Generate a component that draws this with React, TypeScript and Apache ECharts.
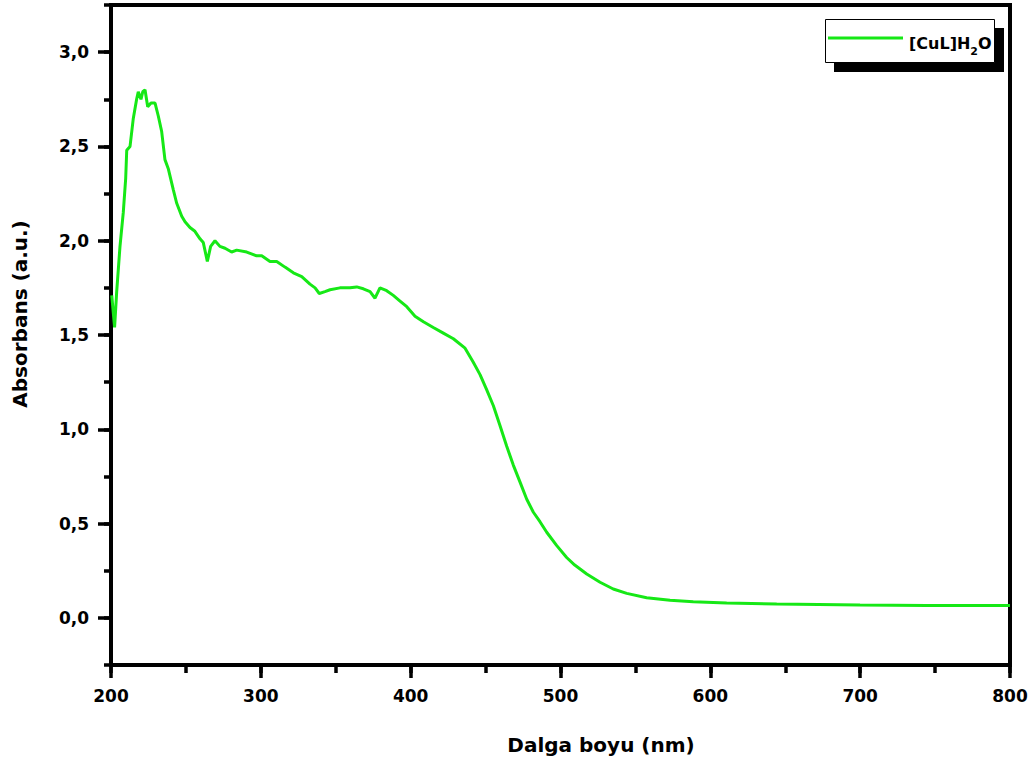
import React, { useEffect, useRef } from "react";
import * as echarts from "echarts";

const wavelength = [
  200.5, 202.4, 203.8, 206, 208.2, 209.8, 210.5, 212.7, 214.9, 217.1, 218.2, 220, 221.2, 222.7, 224.5,
  226.7, 229.4, 231.6, 233.8, 236, 238.3, 241.6, 243.8, 247.2, 249.4, 252.7, 256, 259.4, 261.6,
  264.3, 266.5, 269.4, 272.7, 276.1, 280.5, 283.9, 290.6, 297.2, 300.6, 306.1, 310.6, 316.1,
  321.7, 327.3, 332.8, 336.2, 339, 342.8, 346.2, 352.8, 359.5, 364, 368.4, 372.9, 376.2, 379.5,
  384, 388.4, 392.9, 397.4, 402.9, 408.5, 415.1, 421.8, 428.5, 436.3, 441.8, 446.3, 450.7,
  455.2, 459.6, 464.1, 468.5, 473, 477.4, 481.9, 486.3, 490.8, 497.5, 504.1, 509.5, 517.5,
  526.4, 535.2, 544.2, 557.5, 573.1, 588.6, 610.9, 644.3, 699.9, 744.4, 800,
];
const absorbance = [
  1.71, 1.54, 1.73, 1.97, 2.15, 2.33, 2.48, 2.5, 2.65, 2.75, 2.79, 2.75, 2.79, 2.8, 2.71,
  2.73, 2.73, 2.66, 2.58, 2.43, 2.38, 2.27, 2.2, 2.13, 2.1, 2.07, 2.05, 2.01, 1.99,
  1.89, 1.97, 2.0, 1.97, 1.96, 1.94, 1.95, 1.94, 1.92, 1.92, 1.89, 1.89, 1.86,
  1.83, 1.81, 1.77, 1.75, 1.72, 1.73, 1.74, 1.75, 1.75, 1.755, 1.745, 1.73, 1.695, 1.75,
  1.735, 1.71, 1.68, 1.65, 1.6, 1.57, 1.54, 1.51, 1.48, 1.43, 1.355, 1.29, 1.21,
  1.125, 1.02, 0.91, 0.81, 0.72, 0.63, 0.56, 0.51, 0.454, 0.383, 0.32, 0.28, 0.233,
  0.189, 0.153, 0.13, 0.107, 0.093, 0.086, 0.079, 0.074, 0.068, 0.065, 0.065,
];
const seriesName = "[CuL]H2O";
const xTitle = "Dalga boyu (nm)";
const yTitle = "Absorbans (a.u.)";

const FONT = "DejaVu Sans";
const GREEN = "#16e816";

export default function App() {
  const ref = useRef<HTMLDivElement>(null);
  useEffect(() => {
    if (!ref.current) return;
    const chart = echarts.init(ref.current, null, { renderer: "svg" });
    const data = wavelength.map((w, i) => [w, absorbance[i]]);
    const tickStyle = { color: "#000", width: 3.5 };
    chart.setOption({
      animation: false,
      backgroundColor: "#fff",
      grid: [
        { left: 111, right: 25, top: 5, bottom: 100, show: true, borderColor: "#000", borderWidth: 4 },
        { left: 111, right: 25, top: 52.14, bottom: 147.14 },
      ],
      xAxis: [
        {
          type: "value", gridIndex: 0, position: "bottom", min: 200, max: 800, interval: 100,
          axisLine: { show: true, onZero: false, lineStyle: { color: "#000", width: 4 } },
          axisTick: { show: true, length: 13, lineStyle: tickStyle },
          axisLabel: { show: true, margin: 22, color: "#000", fontFamily: FONT, fontWeight: "bold", fontSize: 17 },
          splitLine: { show: false },
        },
        {
          type: "value", gridIndex: 0, position: "bottom", min: 200, max: 800, interval: 50,
          axisLine: { show: false, onZero: false },
          axisTick: { show: true, length: 8, lineStyle: tickStyle },
          axisLabel: { show: false },
          splitLine: { show: false },
        },
        { type: "value", gridIndex: 1, show: false, min: 200, max: 800, axisLine: { onZero: false } },
      ],
      yAxis: [
        {
          type: "value", gridIndex: 0, position: "left", min: -0.25, max: 3.25, interval: 0.25,
          axisLine: { show: true, onZero: false, lineStyle: { color: "#000", width: 4 } },
          axisTick: { show: true, length: 7, lineStyle: tickStyle },
          axisLabel: { show: false },
          splitLine: { show: false },
        },
        {
          type: "value", gridIndex: 1, position: "left", min: 0, max: 3, interval: 0.5,
          axisLine: { show: false, onZero: false },
          axisTick: { show: true, length: 13, lineStyle: tickStyle },
          axisLabel: {
            show: true, margin: 22, color: "#000", fontFamily: FONT, fontWeight: "bold", fontSize: 17,
            formatter: (v: number) => v.toFixed(1).replace(".", ","),
          },
          splitLine: { show: false },
        },
      ],
      series: [
        {
          name: seriesName,
          type: "line",
          xAxisIndex: 0,
          yAxisIndex: 0,
          data,
          showSymbol: false,
          symbol: "none",
          lineStyle: { color: GREEN, width: 3 },
          z: 5,
        },
      ],
      graphic: [
        {
          type: "text", x: 601, y: 745,
          style: { text: xTitle, fill: "#000", font: `bold 20px "${FONT}"`, align: "center", verticalAlign: "middle" },
        },
        {
          type: "text", x: 20, y: 314, rotation: Math.PI / 2,
          style: { text: yTitle, fill: "#000", font: `bold 20px "${FONT}"`, align: "center", verticalAlign: "middle" },
        },
        { type: "rect", shape: { x: 834, y: 28, width: 170, height: 44 }, style: { fill: "#000" }, z: 10 },
        { type: "rect", shape: { x: 825.5, y: 19.5, width: 169, height: 43 }, style: { fill: "#fff", stroke: "#000", lineWidth: 1 }, z: 11 },
        { type: "line", shape: { x1: 828, y1: 38, x2: 903, y2: 38 }, style: { stroke: GREEN, lineWidth: 3 }, z: 12 },
        {
          type: "text", x: 909, y: 43, z: 12,
          style: {
            text: "{a|[CuL]H}{s|2}{a|O}",
            align: "left", verticalAlign: "middle",
            rich: {
              a: { fontFamily: FONT, fontWeight: "bold", fontSize: 16, fill: "#000", color: "#000", lineHeight: 28, verticalAlign: "middle" },
              s: { fontFamily: FONT, fontWeight: "bold", fontSize: 11, fill: "#000", color: "#000", lineHeight: 13, verticalAlign: "bottom" },
            },
          },
        },
      ],
    });
    return () => chart.dispose();
  }, []);
  return <div ref={ref} style={{ position: "absolute", left: 0, top: 0, width: 1035, height: 765 }} />;
}
